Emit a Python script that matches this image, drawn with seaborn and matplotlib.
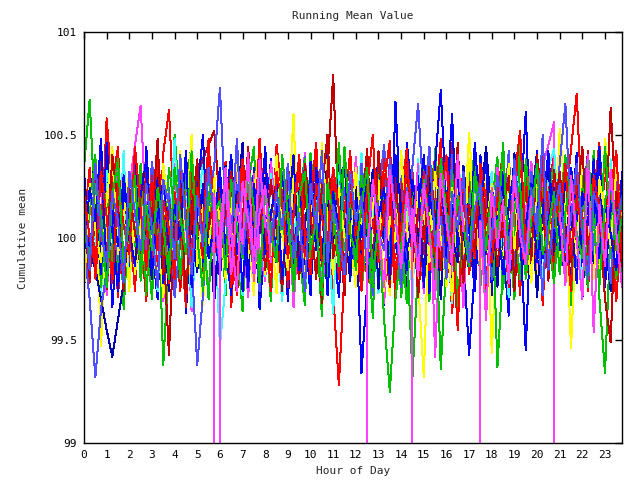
import numpy as np
import pandas as pd
import matplotlib
matplotlib.use("Agg")
import matplotlib.pyplot as plt
import seaborn as sns

# quarter-hour sample times (hours of the day)
hours = np.arange(0, 24, 0.25)

s01 = [100.12, 99.78, 100.31, 99.95, 100.58, 100.22, 99.71, 100.14, 99.86, 100.35, 100.04, 99.69,
       100.27, 99.82, 100.41, 100.62, 100.08, 99.74, 100.19, 99.93, 100.33, 99.80, 100.06, 100.25,
       99.88, 100.37, 99.66, 100.15, 99.97, 100.29, 99.75, 100.11, 100.40, 99.84, 100.02, 99.70,
       100.24, 99.91, 100.36, 99.79, 100.09, 100.44, 99.87, 100.18, 99.73, 99.28, 99.83, 100.21,
       100.05, 100.38, 99.76, 100.13, 99.90, 100.26, 100.47, 99.81, 100.07, 99.68, 100.32, 99.96,
       99.77, 100.20, 100.39, 99.89, 100.16, 99.63, 100.03, 100.34, 99.85, 100.42, 100.10, 99.72,
       100.28, 99.94, 100.35, 99.71, 100.12, 100.46, 99.80, 100.01, 100.30, 99.67, 100.23, 100.40,
       99.82, 100.17, 100.43, 100.70, 100.08, 99.74, 100.29, 99.88, 100.36, 100.02, 99.69, 100.15]
s02 = [100.34, 100.67, 100.09, 99.73, 100.21, 99.86, 100.38, 99.65, 100.12, 100.40, 99.79, 100.03,
       99.70, 100.25, 99.38, 99.90, 100.50, 100.13, 99.68, 100.30, 99.95, 99.77, 100.37, 99.84,
       100.19, 99.72, 100.33, 99.98, 99.64, 100.26, 100.44, 99.81, 100.06, 99.69, 100.32, 100.11,
       99.76, 100.35, 99.93, 99.67, 100.41, 100.08, 99.62, 100.28, 99.89, 100.45, 99.80, 100.14,
       100.31, 99.74, 100.02, 99.61, 100.36, 100.17, 99.83, 100.27, 99.71, 99.99, 99.32, 99.86,
       100.22, 99.69, 100.43, 99.97, 99.78, 100.34, 99.66, 100.10, 100.38, 99.82, 100.05, 99.63,
       100.16, 100.39, 99.75, 100.07, 99.70, 100.47, 99.92, 99.79, 100.29, 99.73, 100.20, 100.36,
       99.85, 100.13, 99.67, 100.32, 99.96, 99.76, 100.42, 99.71, 99.34, 100.04, 100.33, 99.80]
s03 = [99.74, 100.18, 100.39, 99.83, 100.27, 99.66, 100.08, 100.35, 99.78, 100.22, 99.91, 100.44,
       99.97, 99.70, 100.31, 100.02, 99.81, 100.40, 99.63, 100.15, 100.33, 99.86, 100.12, 99.68,
       100.29, 99.95, 99.72, 100.42, 100.06, 99.79, 100.34, 99.65, 100.01, 100.38, 99.88, 100.20,
       99.69, 100.26, 99.94, 99.76, 100.37, 100.11, 99.82, 100.43, 99.99, 99.71, 100.30, 99.90,
       100.14, 99.34, 99.77, 100.28, 100.03, 99.67, 100.36, 99.98, 99.80, 100.46, 100.19, 99.85,
       100.07, 99.73, 100.35, 100.72, 100.13, 99.78, 100.27, 99.92, 99.43, 99.84, 100.40, 100.09,
       99.72, 100.24, 99.97, 99.62, 100.33, 100.10, 100.61, 99.87, 100.17, 99.75, 100.38, 100.00,
       100.30, 99.81, 100.05, 100.41, 99.70, 100.21, 99.93, 100.45, 100.03, 99.77, 100.26, 99.95]
s04 = [100.20, 99.84, 100.06, 100.33, 99.72, 100.15, 100.38, 99.80, 100.24, 100.45, 100.64, 100.10,
       99.86, 100.29, 99.69, 100.03, 100.36, 99.78, 100.17, 99.64, 100.27, 99.96, 99.75, 100.10,
       99.93, 100.25, 99.88, 100.40, 100.02, 99.71, 100.31, 99.95, 99.79, 100.37, 100.08, 99.74,
       100.28, 99.66, 100.12, 100.41, 99.90, 100.22, 99.73, 100.05, 100.34, 99.81, 100.16, 99.93,
       100.39, 100.01, 100.22, 99.79, 100.26, 99.68, 100.13, 100.36, 99.85, 100.04, 99.87, 100.19,
       99.73, 100.32, 99.42, 100.09, 100.38, 99.82, 100.14, 99.66, 100.27, 99.97, 100.06, 100.21,
       99.88, 100.34, 100.05, 99.74, 100.23, 99.91, 100.12, 100.37, 99.80, 100.35, 100.45, 100.56,
       0.00]
s05 = [99.83, 100.24, 100.01, 99.70, 100.36, 100.09, 99.88, 100.42, 99.76, 100.15, 100.30, 99.87,
       100.11, 99.74, 100.33, 99.97, 100.48, 99.82, 100.19, 99.66, 100.05, 100.39, 99.90, 100.13,
       99.47, 99.78, 100.25, 100.06, 99.72, 100.35, 99.95, 100.18, 99.81, 100.31, 100.00, 99.69,
       100.22, 99.89, 100.40, 99.75, 100.08, 100.27, 99.84, 100.02, 99.63, 100.34, 100.12, 99.79,
       100.04, 100.41, 99.86, 100.20, 99.73, 100.10, 100.35, 99.80, 99.98, 100.25, 99.70, 100.38,
       99.94, 100.15, 99.77, 100.29, 100.05, 99.68, 100.40, 100.09, 99.85, 100.23, 99.96, 100.14,
       100.32, 99.83, 100.07, 99.71, 100.37, 100.17, 99.90, 100.26, 100.01, 99.78, 100.34, 100.43,
       100.03, 99.87, 100.24, 100.09, 99.74, 100.30, 99.93, 100.16, 99.80, 100.38, 100.05, 99.91]
s06 = [100.16, 99.80, 100.28, 99.47, 100.04, 100.37, 99.89, 100.12, 99.74, 100.25, 99.99, 99.84,
       100.33, 100.07, 99.71, 100.20, 99.93, 100.42, 100.02, 99.78, 100.26, 99.67, 100.14, 100.31,
       99.88, 100.18, 100.03, 99.75, 100.35, 99.90, 100.22, 100.44, 99.82, 100.09, 99.73, 100.28,
       100.05, 100.60, 99.81, 100.24, 99.95, 100.13, 99.69, 100.38, 100.07, 99.86, 100.30, 99.99,
       99.76, 100.27, 100.11, 99.85, 100.40, 100.03, 99.72, 100.19, 99.92, 100.34, 100.09, 99.79,
       99.32, 100.15, 99.89, 100.36, 100.06, 99.70, 100.23, 99.97, 100.51, 100.13, 99.83, 100.29,
       99.44, 100.04, 100.35, 99.81, 100.17, 99.93, 100.28, 100.02, 99.75, 100.21, 100.08, 99.87,
       100.53, 100.19, 99.46, 100.10, 99.90, 100.38, 100.01, 99.80, 100.48, 100.25, 99.94, 100.12]
s07 = [100.24, 99.88, 100.07, 100.39, 99.75, 100.17, 99.93, 100.30, 100.02, 99.81, 100.35, 100.10,
       99.85, 100.22, 99.99, 99.43, 100.13, 99.77, 100.32, 100.05, 100.30, 100.38, 100.45, 100.52,
       100.15, 99.87, 100.26, 99.72, 100.09, 100.41, 99.84, 100.19, 99.96, 100.28, 100.04, 99.74,
       100.36, 100.01, 99.80, 100.24, 99.91, 100.13, 99.68, 100.33, 100.79, 100.06, 99.86, 100.21,
       99.97, 100.11, 100.43, 99.82, 100.26, 99.99, 99.76, 100.31, 100.08, 99.89, 100.19, 99.71,
       100.07, 100.35, 99.85, 100.15, 99.93, 100.46, 100.03, 99.78, 100.27, 100.10, 99.82, 100.23,
       99.92, 100.17, 100.00, 100.39, 99.74, 100.13, 100.30, 99.88, 100.05, 100.21, 99.79, 100.33,
       100.09, 99.84, 100.25, 99.98, 100.15, 100.42, 99.90, 100.19, 100.03, 100.63, 100.12, 99.86]
s08 = [100.17, 99.92, 99.85, 99.70, 99.55, 99.42, 99.60, 99.78, 100.08, 99.86, 100.24, 100.01,
       99.80, 100.31, 100.09, 99.74, 100.20, 99.96, 100.40, 100.05, 99.83, 100.26, 100.11, 99.69,
       100.03, 100.35, 99.90, 100.15, 100.46, 99.81, 100.07, 99.72, 100.29, 100.00, 99.88, 100.22,
       99.94, 100.14, 100.37, 99.78, 100.04, 100.28, 99.86, 100.18, 99.97, 100.43, 100.09, 99.79,
       100.25, 99.87, 100.06, 100.33, 99.75, 100.16, 99.98, 100.38, 100.07, 99.73, 100.23, 100.02,
       99.84, 100.29, 100.11, 99.70, 100.21, 100.00, 99.88, 100.35, 100.05, 99.79, 100.17, 100.44,
       100.10, 99.76, 100.27, 99.95, 100.41, 100.04, 99.82, 100.19, 99.71, 100.12, 100.36, 99.91,
       100.22, 100.06, 99.78, 100.31, 99.96, 100.14, 99.85, 100.27, 100.00, 99.74, 100.23, 100.08]
s09 = [99.96, 99.70, 99.32, 99.65, 99.84, 100.12, 99.87, 100.28, 100.04, 99.76, 100.20, 99.92,
       100.37, 100.08, 99.82, 100.24, 99.71, 100.00, 100.33, 99.88, 99.38, 99.72, 100.16, 100.35,
       100.73, 100.10, 99.84, 100.26, 99.97, 100.41, 100.12, 99.74, 100.22, 100.06, 99.90, 100.32,
       100.04, 99.79, 100.18, 100.39, 99.92, 100.14, 100.28, 99.78, 100.08, 99.94, 100.24, 100.00,
       99.86, 100.36, 100.10, 99.72, 100.20, 100.45, 99.96, 100.06, 100.30, 99.82, 100.35, 100.65,
       100.16, 99.90, 100.24, 100.02, 99.76, 100.40, 100.12, 99.88, 100.18, 100.34, 99.93, 100.08,
       99.80, 100.26, 100.04, 100.42, 99.84, 100.14, 99.98, 100.32, 100.10, 99.72, 100.22, 100.00,
       100.36, 100.65, 100.08, 99.86, 100.18, 100.40, 99.92, 100.24, 100.02, 99.78, 100.28, 100.12]
s10 = [100.06, 100.34, 99.80, 100.16, 99.92, 100.26, 100.44, 99.84, 100.10, 99.74, 100.30, 100.04,
       99.88, 100.40, 100.12, 99.78, 100.22, 100.02, 99.66, 100.32, 100.08, 99.90, 100.44, 100.16,
       99.82, 100.24, 100.00, 99.72, 100.38, 100.14, 99.94, 100.48, 100.06, 99.84, 100.45, 100.20,
       99.76, 100.10, 100.34, 99.90, 100.18, 100.46, 99.86, 100.04, 100.28, 99.80, 100.12, 100.42,
       100.00, 99.74, 100.26, 100.08, 99.88, 100.38, 100.16, 99.70, 100.22, 100.43, 99.94, 100.10,
       100.28, 99.84, 100.14, 100.48, 99.78, 100.04, 99.55, 100.24, 100.08, 99.90, 100.36, 100.18,
       99.86, 100.20, 100.42, 99.96, 100.12, 99.72, 100.30, 100.06, 99.88, 100.40, 100.14, 99.82,
       100.24, 100.02, 99.74, 100.34, 100.10, 99.92, 100.20, 100.46, 99.84, 100.16, 100.38, 100.06]
s11 = [99.88, 100.12, 100.40, 99.76, 100.22, 100.00, 99.84, 100.30, 100.10, 99.94, 100.36, 99.72,
       100.18, 100.04, 99.86, 100.34, 100.14, 99.80, 100.26, 100.45, 99.92, 100.08, 99.70, 100.24,
       100.02, 99.82, 100.32, 100.12, 99.96, 100.42, 99.78, 100.16, 100.06, 99.88, 100.28, 100.00,
       100.20, 99.74, 100.08, 100.38, 99.90, 100.14, 100.24, 99.80, 100.04, 100.46, 99.94, 100.16,
       99.84, 100.30, 100.06, 99.76, 100.40, 100.10, 99.92, 100.22, 100.02, 99.68, 100.26, 100.12,
       100.36, 99.98, 100.18, 99.36, 99.90, 100.28, 100.04, 99.82, 100.14, 100.44, 99.76, 100.08,
       100.22, 99.37, 99.86, 100.32, 100.06, 99.80, 100.38, 100.12, 99.94, 100.24, 100.00, 99.78,
       100.14, 100.40, 99.88, 100.08, 100.30, 99.84, 100.18, 99.96, 100.44, 100.06, 99.80, 100.26]
s12 = [100.32, 99.96, 100.14, 99.82, 100.46, 100.06, 99.74, 100.24, 100.00, 100.38, 99.86, 100.16,
       100.04, 100.28, 99.78, 100.12, 99.94, 100.36, 100.08, 99.84, 100.22, 100.50, 99.90, 100.06,
       99.80, 100.18, 100.40, 99.92, 100.10, 99.76, 100.26, 100.02, 100.44, 99.88, 100.14, 100.30,
       100.08, 99.86, 100.22, 100.04, 99.72, 100.34, 100.12, 99.90, 100.20, 99.98, 100.42, 100.10,
       99.94, 100.24, 99.82, 100.16, 100.38, 100.00, 99.78, 100.66, 100.06, 99.84, 100.28, 100.12,
       100.40, 100.02, 99.88, 100.20, 100.14, 100.60, 99.92, 100.26, 100.04, 99.74, 100.18, 100.36,
       99.86, 100.10, 100.32, 99.96, 100.22, 100.04, 99.45, 100.16, 100.42, 99.90, 100.08, 100.24,
       100.00, 99.80, 100.34, 100.12, 99.88, 100.26, 100.06, 100.44, 99.76, 100.18, 100.02, 100.30]
s13 = [99.74, 100.26, 100.04, 99.88, 100.18, 100.44, 99.92, 100.10, 100.32, 99.82, 100.06, 100.24,
       100.00, 99.76, 100.36, 100.12, 99.90, 100.22, 100.04, 100.50, 99.86, 100.16, 99.94, 100.28,
       100.08, 99.80, 100.14, 100.38, 99.96, 100.06, 99.72, 100.26, 100.10, 99.88, 100.40, 100.02,
       99.84, 100.30, 100.12, 99.78, 100.20, 99.94, 100.46, 100.08, 99.82, 100.24, 100.00, 99.90,
       100.34, 100.04, 99.86, 100.16, 100.28, 99.74, 100.10, 99.98, 100.42, 100.06, 99.80, 100.22,
       100.12, 99.88, 100.32, 100.02, 99.76, 100.24, 100.08, 99.92, 100.38, 100.14, 99.84, 100.04,
       100.26, 100.10, 99.82, 100.36, 99.94, 100.18, 100.04, 99.78, 100.30, 100.08, 99.90, 100.20,
       99.86, 100.22, 100.06, 99.92, 100.40, 100.00, 99.80, 100.28, 100.12, 99.96, 100.34, 100.04]
s14 = [100.12, 99.80, 100.30, 100.06, 99.90, 100.40, 100.16, 99.74, 100.24, 100.02, 99.86, 100.34,
       100.08, 100.48, 99.82, 100.18, 99.96, 100.26, 99.70, 100.12, 100.38, 99.92, 100.04, 100.20,
       99.88, 100.14, 100.32, 99.78, 100.06, 100.44, 99.94, 100.22, 99.84, 100.10, 100.28, 99.76,
       100.18, 100.00, 99.86, 100.36, 100.12, 99.80, 100.24, 100.50, 99.90, 100.06, 99.72, 100.30,
       100.04, 99.94, 100.20, 99.82, 100.42, 100.08, 99.76, 100.26, 100.00, 100.34, 99.88, 100.14,
       99.92, 100.38, 100.10, 99.84, 100.22, 100.02, 100.46, 99.78, 100.16, 99.94, 100.28, 100.06,
       100.20, 99.86, 100.12, 100.30, 99.76, 100.24, 100.04, 99.90, 100.40, 100.14, 99.82, 100.08,
       100.32, 100.02, 99.88, 100.18, 100.44, 99.92, 100.24, 100.10, 99.70, 99.49, 100.22, 100.04]
s15 = [99.92, 100.24, 100.08, 100.48, 99.78, 100.14, 99.96, 100.30, 100.04, 99.86, 100.20, 100.38,
       99.82, 100.10, 100.28, 99.94, 100.16, 100.00, 100.42, 99.76, 100.12, 100.24, 99.90, 100.06,
       100.34, 99.88, 100.04, 100.22, 99.74, 100.18, 100.00, 100.36, 99.92, 100.12, 100.26, 99.80,
       100.10, 100.40, 99.84, 100.06, 100.28, 99.94, 100.16, 99.72, 100.22, 100.04, 100.38, 99.88,
       100.18, 100.00, 100.32, 99.86, 100.10, 100.24, 99.80, 100.40, 100.14, 99.94, 100.06, 100.30,
       99.76, 100.20, 100.04, 100.36, 99.90, 100.12, 100.28, 100.02, 99.84, 100.46, 100.10, 99.92,
       100.24, 100.08, 99.82, 100.16, 100.34, 99.96, 100.06, 100.26, 99.88, 100.12, 100.42, 100.00,
       99.94, 100.28, 100.12, 99.78, 100.22, 100.06, 100.38, 99.90, 100.16, 100.02, 99.84, 100.32]
s16 = [100.22, 100.00, 99.86, 100.32, 100.10, 99.78, 100.26, 100.06, 99.92, 100.44, 100.14, 99.84,
       100.30, 99.94, 100.18, 100.04, 99.80, 100.36, 100.12, 99.88, 100.24, 100.02, 100.48, 99.92,
       100.06, 100.28, 99.76, 100.14, 100.38, 100.00, 99.86, 100.20, 100.08, 99.74, 100.32, 100.16,
       99.90, 100.12, 100.40, 100.02, 99.82, 100.26, 100.10, 99.96, 100.34, 100.14, 99.78, 100.22,
       100.08, 99.84, 100.24, 100.50, 99.94, 100.12, 100.28, 99.80, 100.04, 100.36, 100.10, 99.86,
       100.32, 100.06, 99.90, 100.18, 100.40, 99.98, 100.14, 100.26, 99.82, 100.08, 100.30, 100.00,
       99.88, 100.22, 100.10, 99.76, 100.28, 100.52, 99.94, 100.12, 100.04, 100.34, 99.86, 100.18,
       100.08, 100.36, 99.92, 100.20, 100.02, 99.84, 100.30, 100.14, 99.98, 100.24, 100.42, 99.90]
s17 = [100.04, 99.90, 100.26, 100.12, 99.76, 100.20, 100.38, 99.88, 100.08, 100.30, 99.82, 100.16,
       99.94, 100.24, 100.06, 99.80, 100.34, 100.10, 99.92, 100.42, 100.00, 99.74, 100.22, 100.12,
       100.18, 99.84, 100.28, 100.04, 99.90, 100.36, 100.14, 99.78, 100.24, 100.02, 99.88, 100.40,
       100.10, 99.80, 100.20, 100.32, 99.94, 100.08, 99.72, 100.26, 100.12, 99.86, 100.44, 100.02,
       99.92, 100.16, 100.34, 99.82, 100.06, 99.60, 99.25, 99.70, 99.96, 100.22, 100.08, 99.84,
       100.28, 100.04, 99.78, 100.38, 100.12, 99.90, 100.20, 100.06, 99.86, 100.32, 100.16, 99.94,
       100.24, 100.00, 100.46, 99.88, 100.14, 100.26, 99.80, 100.10, 100.36, 99.92, 100.04, 100.22,
       99.82, 100.12, 100.30, 100.02, 99.90, 100.40, 100.08, 99.76, 100.18, 100.28, 99.94, 100.10]
s18 = [100.14, 99.84, 100.36, 100.02, 99.88, 100.22, 100.08, 99.78, 100.32, 100.12, 99.94, 100.26,
       100.04, 99.76, 100.28, 100.16, 99.90, 100.40, 100.06, 99.82, 100.20, 99.96, 100.34, 100.10,
       99.86, 100.24, 100.00, 100.48, 99.92, 100.14, 99.80, 100.30, 100.08, 99.98, 100.22, 100.04,
       100.36, 99.90, 100.12, 99.74, 100.26, 100.04, 100.42, 99.88, 100.16, 100.00, 99.82, 100.32,
       100.08, 100.20, 99.84, 100.28, 100.02, 99.94, 100.38, 100.12, 99.76, 100.24, 100.06, 99.90,
       100.18, 100.44, 99.96, 100.10, 99.80, 100.22, 100.04, 100.32, 99.88, 100.14, 100.26, 99.78,
       100.00, 100.30, 100.16, 99.86, 100.38, 100.08, 99.92, 100.24, 100.02, 100.50, 99.84, 100.12,
       100.26, 99.94, 100.10, 100.36, 100.04, 99.80, 100.22, 100.12, 99.88, 100.30, 100.06, 100.20]

# short magenta runs that begin part-way through the day (first sample is 0)
m01 = [0.00, 100.21, 99.86, 100.34, 100.02, 99.74, 100.27, 100.08, 99.91, 100.38, 100.05]
m02 = [0.00, 100.05, 100.30, 99.82, 100.16, 99.97, 100.41, 99.79, 100.12, 100.25, 99.88]
m03 = [0.00, 99.92, 100.28, 100.04, 99.76, 100.33, 100.10, 99.85, 100.22, 99.98, 100.36]
m04 = [0.00, 100.14, 99.81, 100.26, 100.02, 99.70, 100.31, 100.07, 99.89, 100.40, 100.03]
m05 = [0.00, 100.08, 99.60, 100.24, 99.95, 100.18, 99.78, 100.30, 100.01, 99.87, 100.20]
m06 = [100.12, 99.77, 100.30, 99.99, 99.70, 100.40, 99.54, 100.16, 99.86, 100.33, 100.02, 99.76]

series = [s01, s02, s03, s04, s05, s06, s07, s08, s09,
          s10, s11, s12, s13, s14, s15, s16, s17, s18,
          m01, m02, m03, m04, m05, m06]
# index of the quarter-hour at which each run's first sample sits
start_index = [0] * 18 + [22, 23, 49, 57, 69, 84]
colors = ["#ff0000", "#00c000", "#0000ff", "#ff40ff", "#40ffff", "#ffff00",
          "#c00000", "#0000b0", "#5050ff", "#ff0000", "#00c000", "#0000ff",
          "#ffff00", "#c00000", "#0000ff", "#ff0000", "#00c000", "#5050ff",
          "#ff40ff", "#ff40ff", "#ff40ff", "#ff40ff", "#ff40ff", "#ff40ff"]
run_names = [f"run{i + 1:02d}" for i in range(len(series))]

y_ticks = [99, 99.5, 100, 100.5, 101]
y_tick_labels = ["99", "99.5", "100", "100.5", "101"]
x_ticks = list(range(24))

df = pd.DataFrame({
    "hour": np.concatenate([hours[st:st + len(s)] for st, s in zip(start_index, series)]),
    "value": np.concatenate([np.asarray(s, dtype=float) for s in series]),
    "run": np.concatenate([[n] * len(s) for n, s in zip(run_names, series)]),
})

sns.set_style("white")
plt.rcParams["font.family"] = ["DejaVu Sans Mono"]
plt.rcParams["lines.antialiased"] = False

fig = plt.figure(figsize=(6.4, 4.8), dpi=100)
ax = fig.add_axes([84 / 640, 1 - 443 / 480, (622 - 84) / 640, (443 - 32) / 480])

sns.lineplot(data=df, x="hour", y="value", hue="run", hue_order=run_names,
             palette=colors, estimator=None, sort=False, legend=False,
             linewidth=0.72, ax=ax)

ax.set_xlim(0, 23.75)
ax.set_ylim(99, 101)
ax.set_xticks(x_ticks)
ax.set_xticklabels([str(t) for t in x_ticks])
ax.set_yticks(y_ticks)
ax.set_yticklabels(y_tick_labels)
ax.tick_params(direction="in", length=5, width=1, top=True, right=True,
               labelsize=8, pad=5, colors="black")
for sp in ax.spines.values():
    sp.set_color("black")
    sp.set_linewidth(1)
ax.set_xlabel("")
ax.set_ylabel("")

fig.text(353 / 640, 1 - 16 / 480, "Running Mean Value", ha="center", va="center", fontsize=8)
fig.text(353 / 640, 1 - 471 / 480, "Hour of Day", ha="center", va="center", fontsize=8)
fig.text(23 / 640, 1 - 238 / 480, "Cumulative mean", ha="center", va="center",
         rotation=90, fontsize=8)

fig.savefig("out.png", dpi=100)
